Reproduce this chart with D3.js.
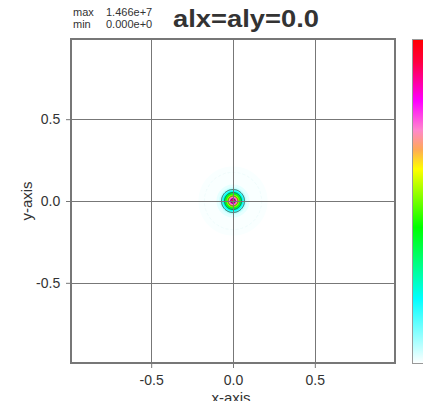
<!DOCTYPE html>
<html>
<head>
<meta charset="utf-8">
<script src="https://cdn.jsdelivr.net/npm/d3@7"></script>
<style>
  body { margin: 0; background: #fff; }
  text { font-family: "Liberation Sans", Arial, sans-serif; fill: #333; }
</style>
</head>
<body>
<div id="container"></div>
<script>
// field: radial profile of the density (fraction of max)
var profileRadius = [0, 0.012, 0.02, 0.03, 0.04, 0.05, 0.06, 0.07, 0.08, 0.1, 0.15, 0.2, 0.23];
var profileLevel  = [1.0, 0.88, 0.76, 0.6, 0.45, 0.32, 0.2, 0.1, 0.04, 0.02, 0.012, 0.008, 0];
var fieldMax = "1.466e+7", fieldMin = "0.000e+0";
var title = "alx=aly=0.0";
var tickValues = [-0.5, 0.0, 0.5];
var lineLevels = [0.1, 0.3, 0.6, 0.85];
var faintLevels = [0.01];

// colour bar stops (fraction of max -> colour)
var cbStops = [0, 0.2, 0.42, 0.6, 0.66, 0.72, 0.81, 0.93, 1];
var cbColors = ["#ffffff", "#00ffff", "#00ff00", "#ffff00", "#ffaa55", "#ff88cc", "#ff00ff", "#ff0040", "#ff0000"];

var W = 423, H = 401;
var pLeft = 71, pTop = 39, pRight = 395, pBottom = 363;

var svg = d3.select("#container").append("svg").attr("width", W).attr("height", H);

var x = d3.scaleLinear().domain([-0.99, 0.99]).range([pLeft, pRight]);
var y = d3.scaleLinear().domain([-0.99, 0.99]).range([pBottom, pTop]);
var color = d3.scaleLinear().domain(cbStops).range(cbColors);
var profile = d3.scaleLinear().domain(profileRadius).range(profileLevel).clamp(true);

// grid around the centre
var n = 160, ext = 0.3, step = 2 * ext / n;
var values = new Array(n * n);
for (var j = 0; j < n; j++) {
  for (var i = 0; i < n; i++) {
    var cx = -ext + (i + 0.5) * step, cy = ext - (j + 0.5) * step;
    values[j * n + i] = profile(Math.sqrt(cx * cx + cy * cy));
  }
}
var proj = d3.geoTransform({
  point: function(px, py) {
    this.stream.point(x(-ext + px * step), y(ext - py * step));
  }
});
var path = d3.geoPath(proj);

var plot = svg.append("g");
plot.append("rect").attr("x", pLeft).attr("y", pTop).attr("width", pRight - pLeft).attr("height", pBottom - pTop).attr("fill", "#fff");

var fillLevels = d3.range(0.005, 1, 0.015);
plot.selectAll("path.fill")
  .data(d3.contours().size([n, n]).thresholds(fillLevels)(values))
  .enter().append("path")
    .attr("class", "fill")
    .attr("d", path)
    .attr("fill", function(d) { return color(d.value); });

plot.selectAll("path.faint")
  .data(d3.contours().size([n, n]).thresholds(faintLevels)(values))
  .enter().append("path")
    .attr("d", path).attr("fill", "none").attr("stroke", "#e6f8f8").attr("stroke-width", 0.6)
    .attr("stroke-dasharray", "3,2");

plot.selectAll("path.line")
  .data(d3.contours().size([n, n]).thresholds(lineLevels)(values))
  .enter().append("path")
    .attr("d", path).attr("fill", "none").attr("stroke", "#1a3a2a").attr("stroke-width", 0.9).attr("stroke-opacity", 0.8);

// grid lines
var grid = svg.append("g").attr("stroke", "#777").attr("stroke-width", 1);
tickValues.forEach(function(v) {
  grid.append("line").attr("x1", Math.round(x(v)) + 0.5).attr("x2", Math.round(x(v)) + 0.5).attr("y1", pTop).attr("y2", pBottom);
  grid.append("line").attr("y1", Math.round(y(v)) + 0.5).attr("y2", Math.round(y(v)) + 0.5).attr("x1", pLeft).attr("x2", pRight);
});

// axes
var fmt = function(d) { return d3.format(".1f")(d).replace("\u2212", "-"); };
var xAxis = d3.axisBottom(x).tickValues(tickValues).tickFormat(fmt).tickSize(5).tickSizeOuter(0);
var yAxis = d3.axisLeft(y).tickValues(tickValues).tickFormat(fmt).tickSize(5).tickSizeOuter(0);
var gX = svg.append("g").attr("transform", "translate(0," + pBottom + ")").call(xAxis);
var gY = svg.append("g").attr("transform", "translate(" + pLeft + ",0)").call(yAxis);
[gX, gY].forEach(function(g) {
  g.select(".domain").remove();
  g.selectAll("line").attr("stroke", "#777");
  g.selectAll("text").attr("font-size", 14).attr("fill", "#333").style("font-family", "Liberation Sans, Arial, sans-serif");
});
gX.selectAll("text").attr("dy", "1.0em");
gY.selectAll("text").attr("dx", "-0.2em");

svg.append("rect").attr("x", pLeft).attr("y", pTop).attr("width", pRight - pLeft).attr("height", pBottom - pTop)
  .attr("fill", "none").attr("stroke", "#777").attr("stroke-width", 2);

svg.append("text").attr("x", (pLeft + pRight) / 2 - 2).attr("y", H + 2).attr("text-anchor", "middle").attr("font-size", 15).text("x-axis");
svg.append("text").attr("transform", "translate(32," + y(0) + ") rotate(-90)").attr("text-anchor", "middle").attr("font-size", 15).text("y-axis");

// header
svg.append("text").attr("x", 73).attr("y", 16).attr("font-size", 11).text("max");
svg.append("text").attr("x", 106).attr("y", 16).attr("font-size", 11).text(fieldMax);
svg.append("text").attr("x", 73).attr("y", 28).attr("font-size", 11).text("min");
svg.append("text").attr("x", 106).attr("y", 28).attr("font-size", 11).text(fieldMin);
svg.append("text").attr("x", 173).attr("y", 27).attr("font-size", 23).attr("font-weight", "bold").attr("fill", "#111")
  .attr("textLength", 146).attr("lengthAdjust", "spacingAndGlyphs").text(title);

// colour bar
var defs = svg.append("defs");
var grad = defs.append("linearGradient").attr("id", "cb").attr("x1", 0).attr("y1", 1).attr("x2", 0).attr("y2", 0);
grad.selectAll("stop").data(cbStops).enter().append("stop")
  .attr("offset", function(d) { return d; })
  .attr("stop-color", function(d, i) { return cbColors[i]; });
svg.append("rect").attr("x", 412.5).attr("y", 39.5).attr("width", 22).attr("height", pBottom - pTop)
  .attr("fill", "url(#cb)").attr("stroke", "#999").attr("stroke-width", 1);
</script>
</body>
</html>
